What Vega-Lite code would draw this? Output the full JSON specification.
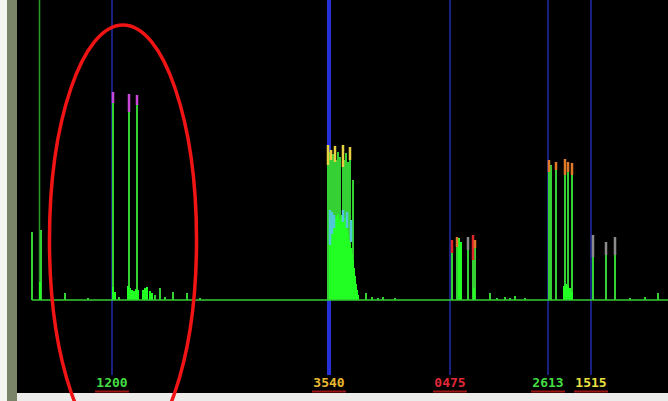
{
  "$schema": "https://vega.github.io/schema/vega-lite/v6.json",
  "width": 668,
  "height": 401,
  "autosize": {"type": "none"},
  "padding": 0,
  "background": "#000000",
  "config": {"view": {"stroke": null, "fill": "#000000"}},
  "datasets": {
    "frame": [
      {"part": "floor", "x0": 0, "x1": 668, "y0": -101, "y1": -93},
      {"part": "edge", "x0": 0, "x1": 7, "y0": -101, "y1": 300},
      {"part": "bezel", "x0": 7, "x1": 17, "y0": -101, "y1": 300}
    ],
    "bars": [
      {"x": 32, "level": 68, "kind": "line"},
      {"x": 41, "level": 70, "kind": "line"},
      {"x": 40, "level": 18, "kind": "mass"},
      {"x": 52, "level": 2, "kind": "line"},
      {"x": 65, "level": 7, "kind": "line"},
      {"x": 88, "level": 2, "kind": "line"},
      {"x": 113, "level": 208, "kind": "line"},
      {"x": 129, "level": 206, "kind": "line"},
      {"x": 137, "level": 205, "kind": "line"},
      {"x": 113, "level": 13, "kind": "mass"},
      {"x": 115, "level": 8, "kind": "mass"},
      {"x": 119, "level": 3, "kind": "line"},
      {"x": 128, "level": 14, "kind": "mass"},
      {"x": 130, "level": 12, "kind": "mass"},
      {"x": 132, "level": 10, "kind": "mass"},
      {"x": 134, "level": 9, "kind": "mass"},
      {"x": 136, "level": 11, "kind": "mass"},
      {"x": 138, "level": 10, "kind": "mass"},
      {"x": 143, "level": 10, "kind": "mass"},
      {"x": 145, "level": 12, "kind": "mass"},
      {"x": 147, "level": 13, "kind": "mass"},
      {"x": 150, "level": 9, "kind": "mass"},
      {"x": 152, "level": 7, "kind": "mass"},
      {"x": 155, "level": 5, "kind": "line"},
      {"x": 160, "level": 12, "kind": "line"},
      {"x": 165, "level": 3, "kind": "line"},
      {"x": 173, "level": 8, "kind": "line"},
      {"x": 187, "level": 7, "kind": "line"},
      {"x": 200, "level": 2, "kind": "line"},
      {"x": 328, "level": 155, "kind": "line"},
      {"x": 330, "level": 148, "kind": "line"},
      {"x": 331, "level": 150, "kind": "line"},
      {"x": 333, "level": 146, "kind": "line"},
      {"x": 335, "level": 154, "kind": "line"},
      {"x": 337, "level": 140, "kind": "line"},
      {"x": 338, "level": 148, "kind": "line"},
      {"x": 340, "level": 143, "kind": "line"},
      {"x": 343, "level": 155, "kind": "line"},
      {"x": 345, "level": 140, "kind": "line"},
      {"x": 346, "level": 147, "kind": "line"},
      {"x": 348, "level": 138, "kind": "line"},
      {"x": 350, "level": 153, "kind": "line"},
      {"x": 353, "level": 120, "kind": "line"},
      {"x": 330, "level": 55, "kind": "mass"},
      {"x": 331, "level": 62, "kind": "mass"},
      {"x": 332, "level": 70, "kind": "mass"},
      {"x": 333, "level": 74, "kind": "mass"},
      {"x": 334, "level": 78, "kind": "mass"},
      {"x": 335, "level": 82, "kind": "mass"},
      {"x": 336, "level": 80, "kind": "mass"},
      {"x": 337, "level": 84, "kind": "mass"},
      {"x": 338, "level": 86, "kind": "mass"},
      {"x": 339, "level": 80, "kind": "mass"},
      {"x": 340, "level": 78, "kind": "mass"},
      {"x": 341, "level": 82, "kind": "mass"},
      {"x": 342, "level": 85, "kind": "mass"},
      {"x": 343, "level": 80, "kind": "mass"},
      {"x": 344, "level": 76, "kind": "mass"},
      {"x": 345, "level": 82, "kind": "mass"},
      {"x": 346, "level": 74, "kind": "mass"},
      {"x": 347, "level": 70, "kind": "mass"},
      {"x": 348, "level": 66, "kind": "mass"},
      {"x": 349, "level": 60, "kind": "mass"},
      {"x": 350, "level": 56, "kind": "mass"},
      {"x": 351, "level": 52, "kind": "mass"},
      {"x": 352, "level": 46, "kind": "mass"},
      {"x": 353, "level": 40, "kind": "mass"},
      {"x": 354, "level": 32, "kind": "mass"},
      {"x": 355, "level": 24, "kind": "mass"},
      {"x": 356, "level": 16, "kind": "mass"},
      {"x": 357, "level": 10, "kind": "mass"},
      {"x": 358, "level": 5, "kind": "mass"},
      {"x": 366, "level": 7, "kind": "line"},
      {"x": 372, "level": 3, "kind": "line"},
      {"x": 378, "level": 2, "kind": "line"},
      {"x": 383, "level": 3, "kind": "line"},
      {"x": 395, "level": 2, "kind": "line"},
      {"x": 452, "level": 60, "kind": "line"},
      {"x": 457, "level": 63, "kind": "line"},
      {"x": 459, "level": 62, "kind": "mass"},
      {"x": 461, "level": 58, "kind": "mass"},
      {"x": 468, "level": 63, "kind": "line"},
      {"x": 473, "level": 65, "kind": "line"},
      {"x": 475, "level": 60, "kind": "line"},
      {"x": 474, "level": 12, "kind": "mass"},
      {"x": 490, "level": 7, "kind": "line"},
      {"x": 497, "level": 2, "kind": "line"},
      {"x": 505, "level": 3, "kind": "line"},
      {"x": 510, "level": 2, "kind": "line"},
      {"x": 515, "level": 4, "kind": "line"},
      {"x": 525, "level": 2, "kind": "line"},
      {"x": 549, "level": 140, "kind": "line"},
      {"x": 551, "level": 135, "kind": "line"},
      {"x": 556, "level": 138, "kind": "line"},
      {"x": 565, "level": 141, "kind": "line"},
      {"x": 568, "level": 138, "kind": "line"},
      {"x": 572, "level": 137, "kind": "line"},
      {"x": 564, "level": 14, "kind": "mass"},
      {"x": 566, "level": 16, "kind": "mass"},
      {"x": 568, "level": 14, "kind": "mass"},
      {"x": 570, "level": 12, "kind": "mass"},
      {"x": 572, "level": 8, "kind": "mass"},
      {"x": 593, "level": 65, "kind": "line"},
      {"x": 606, "level": 58, "kind": "line"},
      {"x": 615, "level": 63, "kind": "line"},
      {"x": 630, "level": 2, "kind": "line"},
      {"x": 645, "level": 3, "kind": "line"},
      {"x": 658, "level": 7, "kind": "line"}
    ],
    "tips": [
      {"x": 113, "hi": 208, "lo": 197, "tone": "magenta"},
      {"x": 129, "hi": 206, "lo": 188, "tone": "magenta"},
      {"x": 137, "hi": 205, "lo": 195, "tone": "magenta"},
      {"x": 328, "hi": 155, "lo": 135, "tone": "yellow"},
      {"x": 331, "hi": 150, "lo": 140, "tone": "yellow"},
      {"x": 335, "hi": 154, "lo": 138, "tone": "yellow"},
      {"x": 343, "hi": 155, "lo": 133, "tone": "yellow"},
      {"x": 350, "hi": 153, "lo": 140, "tone": "yellow"},
      {"x": 330, "hi": 90, "lo": 55, "tone": "cyan"},
      {"x": 332, "hi": 88, "lo": 66, "tone": "cyan"},
      {"x": 334, "hi": 85, "lo": 72, "tone": "cyan"},
      {"x": 343, "hi": 90, "lo": 78, "tone": "cyan"},
      {"x": 347, "hi": 88, "lo": 72, "tone": "cyan"},
      {"x": 351, "hi": 80, "lo": 58, "tone": "cyan"},
      {"x": 452, "hi": 60, "lo": 47, "tone": "red"},
      {"x": 473, "hi": 65, "lo": 40, "tone": "red"},
      {"x": 457, "hi": 63, "lo": 53, "tone": "orange"},
      {"x": 475, "hi": 60, "lo": 52, "tone": "orange"},
      {"x": 549, "hi": 140, "lo": 128, "tone": "orange"},
      {"x": 556, "hi": 138, "lo": 130, "tone": "orange"},
      {"x": 565, "hi": 141, "lo": 125, "tone": "orange"},
      {"x": 568, "hi": 138, "lo": 128, "tone": "orange"},
      {"x": 572, "hi": 137, "lo": 125, "tone": "orange"},
      {"x": 468, "hi": 63, "lo": 50, "tone": "grey"},
      {"x": 593, "hi": 65, "lo": 43, "tone": "grey"},
      {"x": 606, "hi": 58, "lo": 45, "tone": "grey"},
      {"x": 615, "hi": 63, "lo": 45, "tone": "grey"}
    ],
    "markers": [
      {"ch": "1200", "x": 112, "role": "other", "tone": "green"},
      {"ch": "3540", "x": 329, "role": "main", "tone": "amber"},
      {"ch": "0475", "x": 450, "role": "other", "tone": "red"},
      {"ch": "2613", "x": 548, "role": "other", "tone": "green"},
      {"ch": "1515", "x": 591, "role": "other", "tone": "yellow"}
    ],
    "focus": [{"x": 123, "level": 60}]
  },
  "encoding": {
    "x": {"field": "x", "type": "quantitative", "scale": {"domain": [0, 668], "nice": false, "zero": false}, "axis": null}
  },
  "layer": [
    {
      "data": {"name": "markers"},
      "mark": {"type": "rule"},
      "encoding": {
        "y": {"datum": 300, "type": "quantitative", "scale": {"domain": [-101, 300], "nice": false, "zero": false}, "axis": null},
        "y2": {"datum": -75},
        "color": {"field": "role", "type": "nominal", "scale": {"domain": ["main", "other"], "range": ["#2430d8", "#1a2080"]}, "legend": null},
        "strokeWidth": {"field": "role", "type": "nominal", "scale": {"domain": ["main", "other"], "range": [4, 2]}, "legend": null}
      }
    },
    {
      "data": {"values": [{"x": 39.5}]},
      "mark": {"type": "rule", "color": "#2a9a2a", "strokeWidth": 1.5},
      "encoding": {"y": {"datum": 300, "type": "quantitative"}, "y2": {"datum": 0}}
    },
    {
      "data": {"name": "bars"},
      "mark": {"type": "rule", "strokeWidth": 2},
      "encoding": {
        "y": {"field": "level", "type": "quantitative"},
        "y2": {"datum": 0},
        "color": {"field": "kind", "type": "nominal", "scale": {"domain": ["line", "mass"], "range": ["#34d034", "#22ff22"]}, "legend": null}
      }
    },
    {
      "data": {"name": "tips"},
      "mark": {"type": "rule", "strokeWidth": 2.5},
      "encoding": {
        "y": {"field": "hi", "type": "quantitative"},
        "y2": {"field": "lo"},
        "color": {"field": "tone", "type": "nominal", "scale": {"domain": ["magenta", "yellow", "cyan", "red", "orange", "grey"], "range": ["#c848d8", "#e8d040", "#50c8d8", "#e02828", "#e07a28", "#8c8c8c"]}, "legend": null}
      }
    },
    {
      "data": {"values": [{"x": 32, "x1": 668}]},
      "mark": {"type": "rule", "color": "#33cc33", "strokeWidth": 1.5},
      "encoding": {"x2": {"field": "x1"}, "y": {"datum": 0, "type": "quantitative"}}
    },
    {
      "data": {"name": "markers"},
      "mark": {"type": "text", "font": "DejaVu Sans Mono", "fontWeight": "bold", "fontSize": 13, "align": "center", "baseline": "middle"},
      "encoding": {
        "y": {"datum": -83, "type": "quantitative"},
        "text": {"field": "ch"},
        "color": {"field": "tone", "type": "nominal", "scale": {"domain": ["green", "amber", "red", "yellow"], "range": ["#44dd44", "#e8b830", "#e02838", "#e8e040"]}, "legend": null}
      }
    },
    {
      "data": {"name": "markers"},
      "mark": {"type": "tick", "orient": "horizontal", "size": 34, "thickness": 2, "color": "#e02020"},
      "encoding": {"y": {"datum": -91.5, "type": "quantitative"}}
    },
    {
      "data": {"name": "frame"},
      "mark": {"type": "rect"},
      "encoding": {
        "x": {"field": "x0", "type": "quantitative"},
        "x2": {"field": "x1"},
        "y": {"field": "y0", "type": "quantitative"},
        "y2": {"field": "y1"},
        "color": {"field": "part", "type": "nominal", "scale": {"domain": ["floor", "edge", "bezel"], "range": ["#ececea", "#f4f4f0", "#7a8468"]}, "legend": null}
      }
    },
    {
      "data": {"name": "focus"},
      "mark": {"type": "point", "filled": false, "shape": "M -0.342 0 A 0.342 1 0 1 1 0.342 0 A 0.342 1 0 1 1 -0.342 0 Z", "size": 184900, "stroke": "#f01414", "strokeWidth": 3.5, "opacity": 1},
      "encoding": {"y": {"field": "level", "type": "quantitative"}}
    }
  ],
  "resolve": {"scale": {"color": "independent", "strokeWidth": "independent"}}
}
